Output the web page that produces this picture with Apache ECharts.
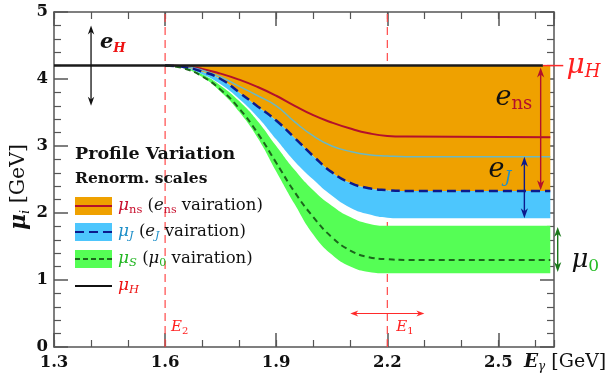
<!DOCTYPE html>
<html><head><meta charset="utf-8">
<script src="https://cdn.jsdelivr.net/npm/echarts@6/dist/echarts.min.js"></script>
<style>html,body{margin:0;padding:0;background:#fff}#c{width:610px;height:376px}</style>
</head><body><div id="c"></div>
<script>
// ---- data ----
const xs       = [1.6, 1.65, 1.7, 1.75, 1.8, 1.85, 1.9, 1.95, 2.0, 2.05, 2.1, 2.15, 2.2, 2.25, 2.64];
const muNs     = [4.2, 4.19, 4.15, 4.08, 3.99, 3.88, 3.75, 3.60, 3.46, 3.35, 3.26, 3.19, 3.15, 3.14, 3.13];
const muNsAlt  = [4.2, 4.19, 4.13, 4.03, 3.89, 3.75, 3.60, 3.36, 3.15, 3.00, 2.92, 2.87, 2.85, 2.84, 2.84];
const muJ      = [4.2, 4.18, 4.11, 4.00, 3.80, 3.59, 3.38, 3.12, 2.85, 2.61, 2.45, 2.37, 2.34, 2.33, 2.33];
const muJLow   = [4.2, 4.17, 4.07, 3.92, 3.70, 3.43, 3.10, 2.77, 2.50, 2.26, 2.08, 1.98, 1.93, 1.92, 1.92];
const muSHigh  = [4.2, 4.17, 4.07, 3.90, 3.67, 3.37, 3.00, 2.64, 2.34, 2.11, 1.94, 1.84, 1.81, 1.81, 1.81];
const muS      = [4.2, 4.16, 4.04, 3.84, 3.56, 3.19, 2.75, 2.31, 1.94, 1.64, 1.44, 1.34, 1.31, 1.30, 1.30];
const muSLow   = [4.2, 4.16, 4.03, 3.81, 3.51, 3.12, 2.62, 2.13, 1.68, 1.38, 1.20, 1.12, 1.10, 1.10, 1.10];
const muHX     = [1.3, 2.62];
const muHVal   = 4.2;
const guideX   = [1.6, 2.2];          // E2, E1
const xTickLabels = ['1.3', '1.6', '1.9', '2.2', '2.5'];
const yTickLabels = ['0', '1', '2', '3', '4', '5'];

// ---- styling ----
const C = {
  orange: '#efa100', blue: '#4dc6fd', green: '#55fe55',
  red: '#b3102c', cyan: '#6ab8c4', navy: '#0c1a8c', dgreen: '#1b661b',
  guide: '#ff4848', axis: '#555'
};
const SERIF = '"DejaVu Serif","Liberation Serif",serif';
const SMOOTH = 0.5;

const pair = arr => xs.map((x, i) => [x, arr[i]]);
// stacked series: value column first so that the y dimension is the stacked one
const pairYX = arr => xs.map((x, i) => [arr[i], x]);
const diff = (a, b) => a.map((v, i) => +(v - b[i]).toFixed(4));
const muHArr = xs.map(() => muHVal);

const chart = echarts.init(document.getElementById('c'));

const xBase = {min: 1.3, max: 2.65, type: 'value', splitLine: {show: false}, axisPointer: {show: false}};
const yBase = {min: 0, max: 5, interval: 1, type: 'value', splitLine: {show: false}};
const lineAx = {show: true, lineStyle: {color: C.axis, width: 1.5}};
const labelStyle = {fontFamily: SERIF, fontWeight: 'bold', fontSize: 16.5, color: '#111'};

const areaSeries = (name, arr, color) => ({
  name, type: 'line', stack: 'band', data: pairYX(arr),
  dimensions: ['val', 'xv'], encode: {x: 'xv', y: 'val'},
  smooth: SMOOTH, symbol: 'none', z: 2,
  lineStyle: {width: 0, opacity: 0},
  areaStyle: color ? {color, opacity: 1} : undefined,
  silent: true
});
const lineSeries = (name, data, color, width, type, z) => ({
  name, type: 'line', data, smooth: SMOOTH, symbol: 'none', z: z || 3,
  lineStyle: {color, width, type: type || 'solid'}, silent: true
});

chart.setOption({
  animation: false,
  grid: {left: 54, right: 56, top: 12, bottom: 29, containLabel: false, outerBoundsMode: 'none'},
  xAxis: [
    Object.assign({}, xBase, {position: 'bottom', interval: 0.3, axisLine: lineAx,
      axisTick: {inside: true, length: 14, lineStyle: {color: C.axis, width: 1.5}},
      axisLabel: Object.assign({}, labelStyle, {margin: 7, showMaxLabel: false,
        formatter: v => { const i = Math.round((v - 1.3) / 0.3); return Math.abs(v - (1.3 + 0.3 * i)) < 1e-6 ? (xTickLabels[i] || '') : ''; }})}),
    Object.assign({}, xBase, {position: 'bottom', interval: 0.1, axisLine: {show: false},
      axisTick: {inside: true, length: 7, lineStyle: {color: C.axis, width: 1.2}}, axisLabel: {show: false}}),
    Object.assign({}, xBase, {position: 'top', interval: 0.3, axisLine: lineAx,
      axisTick: {inside: true, length: 14, lineStyle: {color: C.axis, width: 1.5}}, axisLabel: {show: false}}),
    Object.assign({}, xBase, {position: 'top', interval: 0.1, axisLine: {show: false},
      axisTick: {inside: true, length: 7, lineStyle: {color: C.axis, width: 1.2}}, axisLabel: {show: false}})
  ],
  yAxis: [
    Object.assign({}, yBase, {position: 'left', axisLine: lineAx,
      axisTick: {inside: true, length: 14, lineStyle: {color: C.axis, width: 1.5}},
      minorTick: {show: true, splitNumber: 5, length: 7, lineStyle: {color: C.axis, width: 1.2}},
      axisLabel: Object.assign({}, labelStyle, {margin: 6, formatter: v => yTickLabels[Math.round(v)]})}),
    Object.assign({}, yBase, {position: 'right', axisLine: lineAx,
      axisTick: {inside: true, length: 14, lineStyle: {color: C.axis, width: 1.5}},
      minorTick: {show: true, splitNumber: 5, length: 7, lineStyle: {color: C.axis, width: 1.2}},
      axisLabel: {show: false}})
  ],
  series: [
    ...guideX.map((gx, i) => ({name: 'guide' + i, type: 'line', data: [[gx, 0], [gx, 5]], symbol: 'none', z: 1,
      lineStyle: {color: C.guide, width: 1.2, type: [8, 5]}, silent: true})),
    areaSeries('base', muSLow, null),
    areaSeries('greenBand', diff(muSHigh, muSLow), C.green),
    areaSeries('gap', diff(muJLow, muSHigh), null),
    areaSeries('blueBand', diff(muJ, muJLow), C.blue),
    areaSeries('orangeBand', diff(muHArr, muJ), C.orange),
    lineSeries('muNs', pair(muNs), C.red, 2),
    lineSeries('muNsAlt', pair(muNsAlt), C.cyan, 1.5),
    lineSeries('muJ', pair(muJ), C.navy, 2.5, [9, 5]),
    lineSeries('muS', pair(muS), C.dgreen, 2, [6, 4]),
    {name: 'muH', type: 'line', data: muHX.map(x => [x, muHVal]), symbol: 'none', z: 4,
      lineStyle: {color: '#1a1a1a', width: 2.5}, silent: true}
  ]
});

// ---- annotations (positions in data coordinates) ----
const P = (x, y) => chart.convertToPixel({xAxisIndex: 0, yAxisIndex: 0}, [x, y]);

function arrow(p1, p2, color, w, hl, hw) {
  hl = hl || 10; hw = hw || 3.6;
  const dx = p2[0] - p1[0], dy = p2[1] - p1[1], L = Math.hypot(dx, dy), ux = dx / L, uy = dy / L;
  const head = (t, ux, uy) => ({type: 'polygon', silent: true, z: 20, shape: {points: [
    t, [t[0] - ux * hl - uy * hw, t[1] - uy * hl + ux * hw],
    [t[0] - ux * hl * 0.7, t[1] - uy * hl * 0.7],
    [t[0] - ux * hl + uy * hw, t[1] - uy * hl - ux * hw]]}, style: {fill: color}});
  return [
    {type: 'line', silent: true, z: 20, shape: {x1: p1[0] + ux * hl * 0.6, y1: p1[1] + uy * hl * 0.6, x2: p2[0] - ux * hl * 0.6, y2: p2[1] - uy * hl * 0.6},
      style: {stroke: color, lineWidth: w}},
    head(p2, ux, uy), head(p1, -ux, -uy)
  ];
}
function txt(x, y, text, rich, align) {
  return {type: 'text', silent: true, z: 30, x, y,
    style: {text, rich, align: align || 'left', verticalAlign: 'middle', fontFamily: SERIF}};
}
const R = (size, fill, o) => Object.assign({fontFamily: SERIF, fontSize: size, fill, color: fill, lineHeight: Math.round(size * 1.15)}, o || {});
const SUB = (size, fill, o) => Object.assign({fontFamily: SERIF, fontSize: size, fill, color: fill, lineHeight: size + 1, verticalAlign: 'bottom'}, o || {});

const gfx = [];
// e_H arrow at x=1.4
gfx.push(...arrow(P(1.4, 4.8), P(1.4, 3.6), '#111', 1.3, 9, 3.2));
const pEH = P(1.424, 4.54);
gfx.push(txt(pEH[0], pEH[1], '{a|e}{b|H}', {
  a: R(21, '#111', {fontStyle: 'italic', fontWeight: 'bold', lineHeight: 24}),
  b: SUB(13, '#ee1111', {fontStyle: 'italic', fontWeight: 'bold'})}));
// mu_H tick + label
const pH1 = P(2.62, 4.2), pH2 = P(2.675, 4.2);
gfx.push({type: 'line', silent: true, z: 20, shape: {x1: pH1[0], y1: pH1[1], x2: pH2[0], y2: pH2[1]}, style: {stroke: '#ff2a2a', lineWidth: 1.5}});
const pMH = P(2.684, 4.2);
gfx.push(txt(pMH[0], pMH[1], '{a|μ}{b|H}', {
  a: R(28, '#ff2020', {fontStyle: 'italic', lineHeight: 32}),
  b: SUB(18, '#ff2020', {fontStyle: 'italic'})}));
// e_ns arrow + label
gfx.push(...arrow(P(2.614, 4.17), P(2.614, 2.34), C.red, 1.4, 10, 3.6));
const pENS = P(2.492, 3.72);
gfx.push(txt(pENS[0], pENS[1], '{a|e}{b|ns}', {
  a: R(27, '#111', {fontStyle: 'italic', lineHeight: 31}),
  b: SUB(18, C.red)}));
// e_J arrow + label
gfx.push(...arrow(P(2.570, 2.84), P(2.570, 1.92), C.navy, 1.4, 10, 3.6));
const pEJ = P(2.473, 2.64);
gfx.push(txt(pEJ[0], pEJ[1], '{a|e}{b|J}', {
  a: R(27, '#111', {fontStyle: 'italic', lineHeight: 31}),
  b: SUB(17, '#1e8fc8', {fontStyle: 'italic'})}));
// mu_0 arrow + label
gfx.push(...arrow(P(2.66, 1.79), P(2.66, 1.12), '#1a7a1a', 1.4, 10, 3.6));
const pM0 = P(2.697, 1.30);
gfx.push(txt(pM0[0], pM0[1], '{a|μ}{b|0}', {
  a: R(26, '#111', {fontStyle: 'italic', lineHeight: 30}),
  b: SUB(17, '#22bb22')}));
// E1 arrow and labels
gfx.push(...arrow(P(2.1, 0.5), P(2.3, 0.5), '#ff2a2a', 1.2, 8, 3));
const pE1 = P(2.224, 0.29), pE2 = P(1.616, 0.29);
const eRich = {a: R(15, '#ff2020', {fontStyle: 'italic', lineHeight: 17}), b: SUB(10, '#ff2020')};
gfx.push(txt(pE1[0], pE1[1], '{a|E}{b|1}', eRich));
gfx.push(txt(pE2[0], pE2[1], '{a|E}{b|2}', eRich));

// legend block (layout)
gfx.push({type: 'text', silent: true, z: 30, x: 75, y: 154, style: {text: 'Profile Variation', fontFamily: SERIF, fontWeight: 'bold', fontSize: 17.5, fill: '#111', verticalAlign: 'middle'}});
gfx.push({type: 'text', silent: true, z: 30, x: 75, y: 179, style: {text: 'Renorm. scales', fontFamily: SERIF, fontWeight: 'bold', fontSize: 15.5, fill: '#111', verticalAlign: 'middle'}});
const rows = [
  {cy: 206, fill: C.orange, line: C.red, dash: 'solid', mu: '#c8102e', sub: 'ns', subIt: false, e: 'e', esub: 'ns', ecol: '#c8102e', eIt: false},
  {cy: 232, fill: C.blue, line: C.navy, dash: [9, 5], mu: '#1e8fc8', sub: 'J', subIt: true, e: 'e', esub: 'J', ecol: '#1e8fc8', eIt: true},
  {cy: 259, fill: C.green, line: C.dgreen, dash: [5, 3], mu: '#22b522', sub: 'S', subIt: true, e: 'μ', esub: '0', ecol: '#22b522', eIt: false}
];
rows.forEach(r => {
  gfx.push({type: 'rect', silent: true, z: 20, shape: {x: 75, y: r.cy - 9, width: 37, height: 18}, style: {fill: r.fill}});
  gfx.push({type: 'line', silent: true, z: 21, shape: {x1: 75, y1: r.cy, x2: 112, y2: r.cy}, style: {stroke: r.line, lineWidth: 2, lineDash: r.dash === 'solid' ? null : r.dash}});
  gfx.push(txt(118, r.cy, '{m|μ}{ms|' + r.sub + '}{p| (}{e|' + r.e + '}{es|' + r.esub + '}{p| vairation)}', {
    m: R(17, r.mu, {fontStyle: 'italic', lineHeight: 20}),
    ms: SUB(11.5, r.mu, r.subIt ? {fontStyle: 'italic'} : {}),
    p: R(16.5, '#111', {lineHeight: 20}),
    e: R(16.5, '#111', {fontStyle: 'italic', lineHeight: 20}),
    es: SUB(11, r.ecol, r.eIt ? {fontStyle: 'italic'} : {})
  }));
});
gfx.push({type: 'line', silent: true, z: 20, shape: {x1: 75, y1: 286, x2: 112, y2: 286}, style: {stroke: '#111', lineWidth: 2}});
gfx.push(txt(118, 286, '{m|μ}{ms|H}', {m: R(17, '#ee1111', {fontStyle: 'italic', lineHeight: 20}), ms: SUB(11.5, '#ee1111', {fontStyle: 'italic'})}));

// axis titles
const yRich = {
  m: R(22, '#111', {fontStyle: 'italic', fontWeight: 'bold', lineHeight: 26}),
  s: SUB(13, '#111', {fontStyle: 'italic'}),
  p: R(20.5, '#111', {lineHeight: 26})
};
gfx.push({type: 'text', silent: true, z: 30, x: 19, y: 187, rotation: Math.PI / 2,
  style: {text: '{m|μ}{s|i}{p| [GeV]}', rich: yRich, align: 'center', verticalAlign: 'middle', fontFamily: SERIF}});
gfx.push(txt(524, 362, '{m|E}{s|γ}{p| [GeV]}', {
  m: R(18.5, '#111', {fontStyle: 'italic', fontWeight: 'bold', lineHeight: 22}),
  s: SUB(12, '#111', {fontStyle: 'italic'}),
  p: R(19, '#111', {lineHeight: 22})
}));

chart.setOption({graphic: gfx});
</script>
</body></html>
